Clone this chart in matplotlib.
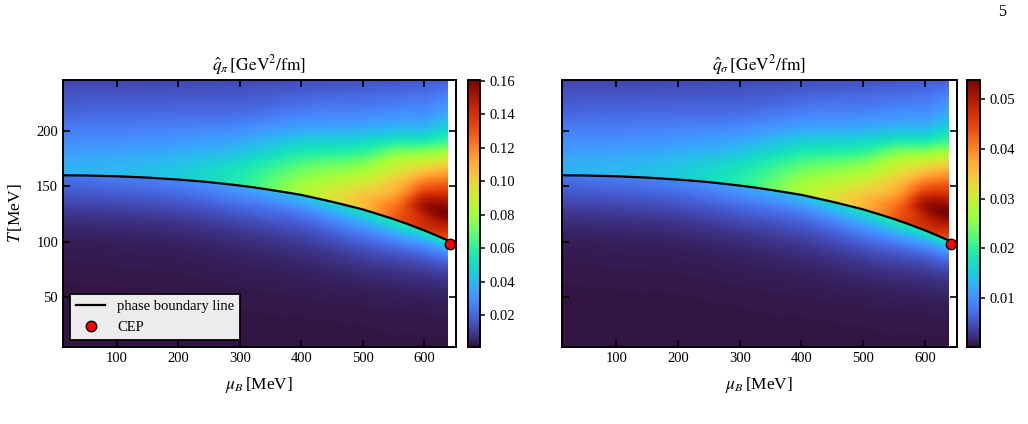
import numpy as np
import matplotlib
matplotlib.use("Agg")
import matplotlib.pyplot as plt
import matplotlib.tri as mtri
from matplotlib.colors import Normalize

# ---------------- data ----------------
# phase boundary line  T_c(mu_B)
mu_line = np.array([10, 50, 100, 150, 200, 225, 250, 275, 300, 325, 350, 375, 400,
                    425, 450, 475, 500, 525, 550, 575, 600, 620, 640])
T_line = np.array([160.0, 159.8, 159.1, 157.9, 156.1, 155.0, 153.8, 152.3, 150.7,
                   148.9, 146.8, 144.6, 142.3, 139.2, 136.1, 132.7, 129.2, 124.9,
                   120.5, 115.6, 110.3, 105.7, 100.8])
cep_mu = [643]
cep_T = [98]

# sampling columns (mu_B) and rows measured as fractions of the distance from the
# boundary line to the top (above) or to the bottom (below) of the map
mu_cols = np.array([10, 100, 200, 300, 400, 500, 560, 600, 620, 638])
s_above = np.array([0, 0.08, 0.17, 0.30, 0.45, 0.65, 1.0])
r_below = np.array([0, 0.05, 0.12, 0.22, 0.35, 0.55, 1.0])
T_top, T_bot = 247.0, 3.0

# q_pi  [1e-3 GeV^2/fm]  (rows: mu columns, cols: s_above / r_below)
qpi_above = np.array([
    [39.2, 38.4, 36.0, 31.2, 26.4, 20.1, 12.1],
    [40.8, 40.0, 37.6, 32.8, 27.2, 20.9, 12.1],
    [45.5, 44.7, 42.3, 36.0, 29.6, 21.7, 12.4],
    [58.2, 56.7, 53.5, 43.9, 34.4, 23.3, 12.9],
    [83.7, 80.5, 74.1, 63.0, 47.1, 29.6, 13.7],
    [107.5, 105.9, 96.4, 80.5, 59.8, 34.4, 14.5],
    [131.4, 128.2, 118.7, 102.8, 80.5, 40.8, 15.3],
    [137.7, 144.1, 152.1, 125.0, 91.6, 43.9, 16.1],
    [134.6, 147.3, 158.4, 133.0, 99.6, 50.3, 16.9],
    [128.2, 144.1, 160.0, 137.7, 105.9, 55.1, 17.7],
]) * 1e-3
qpi_below = np.array([
    [23.3, 20.1, 15.3, 9.0, 4.5, 2.6, 1.6],
    [24.9, 21.7, 16.1, 9.4, 4.8, 2.7, 1.6],
    [28.0, 24.1, 17.7, 10.5, 5.3, 2.9, 1.6],
    [36.0, 29.6, 21.7, 12.9, 6.6, 3.4, 1.6],
    [43.9, 36.0, 24.9, 15.3, 8.2, 3.9, 1.6],
    [53.5, 45.5, 32.8, 20.1, 10.5, 4.5, 1.6],
    [58.2, 48.7, 34.4, 20.1, 10.5, 4.5, 1.8],
    [58.2, 45.5, 31.2, 18.5, 9.7, 4.5, 1.8],
    [58.2, 45.5, 31.2, 18.5, 9.7, 4.5, 1.8],
    [55.1, 42.3, 29.6, 16.9, 9.0, 4.2, 1.8],
]) * 1e-3

# q_sigma  [1e-4 GeV^2/fm]
qsig_above = np.array([
    [130.6, 128.0, 119.9, 103.8, 87.8, 66.3, 39.5],
    [136.0, 133.3, 125.3, 109.2, 90.4, 69.0, 39.5],
    [152.1, 149.4, 141.4, 119.9, 98.5, 71.7, 40.6],
    [195.0, 189.6, 178.9, 146.7, 114.6, 77.0, 42.2],
    [280.7, 270.0, 248.6, 211.0, 157.4, 98.5, 44.9],
    [361.1, 355.8, 323.6, 270.0, 200.3, 114.6, 47.6],
    [441.5, 430.8, 398.6, 345.0, 270.0, 136.0, 50.2],
    [463.0, 484.4, 511.2, 420.1, 307.5, 146.7, 52.9],
    [452.2, 495.1, 532.6, 446.9, 334.3, 168.2, 55.6],
    [430.8, 484.4, 538.0, 463.0, 355.8, 184.2, 58.3],
]) * 1e-4
qsig_below = np.array([
    [77.0, 66.3, 50.2, 28.8, 13.8, 7.4, 4.1],
    [82.4, 71.7, 52.9, 30.4, 14.9, 7.9, 4.1],
    [93.1, 79.7, 58.3, 34.2, 16.5, 8.4, 4.1],
    [119.9, 98.5, 71.7, 42.2, 20.8, 10.0, 4.1],
    [146.7, 119.9, 82.4, 50.2, 26.1, 11.6, 4.1],
    [178.9, 152.1, 109.2, 66.3, 34.2, 13.8, 4.1],
    [195.0, 162.8, 114.6, 66.3, 34.2, 13.8, 4.7],
    [195.0, 152.1, 103.8, 61.0, 31.5, 13.8, 4.7],
    [195.0, 152.1, 103.8, 61.0, 31.5, 13.8, 4.7],
    [184.2, 141.4, 98.5, 55.6, 28.8, 12.7, 4.7],
]) * 1e-4

pi_ticks = [0.02, 0.04, 0.06, 0.08, 0.10, 0.12, 0.14, 0.16]
sig_ticks = [0.01, 0.02, 0.03, 0.04, 0.05]
x_ticks = [100, 200, 300, 400, 500, 600]
y_ticks = [50, 100, 150, 200]

# ---------------- style ----------------
plt.rcParams.update({
    "font.family": ["Liberation Serif", "DejaVu Serif"],
    "mathtext.fontset": "stix",
    "font.size": 10.5,
    "axes.linewidth": 1.4,
})

fig = plt.figure(figsize=(10.28, 4.24), dpi=100)
W, H = 1028.0, 424.0
axL = fig.add_axes([63 / W, 77 / H, 393 / W, 267 / H])
caxL = fig.add_axes([468 / W, 77 / H, 12 / W, 267 / H])
axR = fig.add_axes([562 / W, 77 / H, 395 / W, 267 / H])
caxR = fig.add_axes([967 / W, 77 / H, 13 / W, 267 / H])

# triangulation in (mu, fractional distance from the boundary) coordinates
MU_SCALE = 640.0


def rect_tri(rows):
    nc, nr = len(mu_cols), len(rows)
    X = np.repeat(mu_cols[:, None] / MU_SCALE, nr, axis=1)
    Y = np.repeat(rows[None, :], nc, axis=0)
    tris = []
    for i in range(nc - 1):
        for j in range(nr - 1):
            a = i * nr + j
            b = (i + 1) * nr + j
            c = (i + 1) * nr + j + 1
            d = i * nr + j + 1
            tris.append([a, b, c])
            tris.append([a, c, d])
    return mtri.Triangulation(X.ravel(), Y.ravel(), np.array(tris))


tri_ab = rect_tri(s_above)
tri_be = rect_tri(r_below)

mu_f = np.linspace(mu_cols[0], mu_cols[-1], 700)
T_f = np.linspace(T_bot, T_top, 520)
MU, TT = np.meshgrid(mu_f, T_f)
TC = np.interp(MU, mu_line, T_line)
S = np.clip((TT - TC) / (T_top - TC), 0, 1)
R = np.clip((TC - TT) / (TC - T_bot), 0, 1)
IS_ABOVE = TT >= TC


def field(above, below):
    za = mtri.CubicTriInterpolator(tri_ab, above.ravel(), kind="geom")(MU / MU_SCALE, S)
    zb = mtri.CubicTriInterpolator(tri_be, below.ravel(), kind="geom")(MU / MU_SCALE, R)
    z = np.where(IS_ABOVE, za.filled(np.nan), zb.filled(np.nan))
    return np.ma.masked_invalid(z)


def draw(ax, cax, above, below, vmin, vmax, cticks, title, ylabel, legend):
    Z = field(above, below)
    mesh = ax.pcolormesh(mu_f, T_f, Z, cmap="turbo", norm=Normalize(vmin, vmax),
                         shading="auto", rasterized=True)
    ax.plot(mu_line, T_line, color="black", lw=1.6, label="phase boundary line", zorder=4)
    ax.plot(cep_mu, cep_T, "o", ms=7.5, mfc="red", mec="black", mew=1.0,
            label="CEP", zorder=6, clip_on=False)
    ax.set_xlim(12, 652)
    ax.set_ylim(5, 246)
    ax.set_xticks(x_ticks)
    ax.set_yticks(y_ticks)
    ax.tick_params(direction="in", top=True, right=True, length=5, width=1.2,
                   labelsize=10.5)
    ax.set_xlabel(r"$\mu_B\,$[MeV]", fontsize=12.5, labelpad=7)
    if ylabel:
        ax.set_ylabel(r"$T\,$[MeV]", fontsize=12.5, labelpad=9)
    else:
        ax.tick_params(labelleft=False)
    ax.set_title(title, fontsize=12.5, pad=7)
    if legend:
        leg = ax.legend(loc="lower left", fancybox=False, edgecolor="black",
                        facecolor="white", framealpha=0.92, fontsize=10.5,
                        borderaxespad=0.5, handlelength=2.0)
        leg.get_frame().set_linewidth(1.4)
    cb = fig.colorbar(mesh, cax=cax, ticks=cticks)
    cb.outline.set_linewidth(1.4)
    cax.tick_params(direction="out", length=3.5, width=1.1, labelsize=10.5)
    return cb


draw(axL, caxL, qpi_above, qpi_below, 0.001, 0.1606, pi_ticks,
     r"$\hat{q}_{\pi}\,[\mathrm{GeV}^2/\mathrm{fm}]$", True, True)
draw(axR, caxR, qsig_above, qsig_below, 0.0002, 0.0538, sig_ticks,
     r"$\hat{q}_{\sigma}\,[\mathrm{GeV}^2/\mathrm{fm}]$", False, False)

fig.text(1002 / W, 1 - 12 / H, "5", ha="center", va="center", fontsize=11.5)

fig.savefig("out.png", dpi=100)
